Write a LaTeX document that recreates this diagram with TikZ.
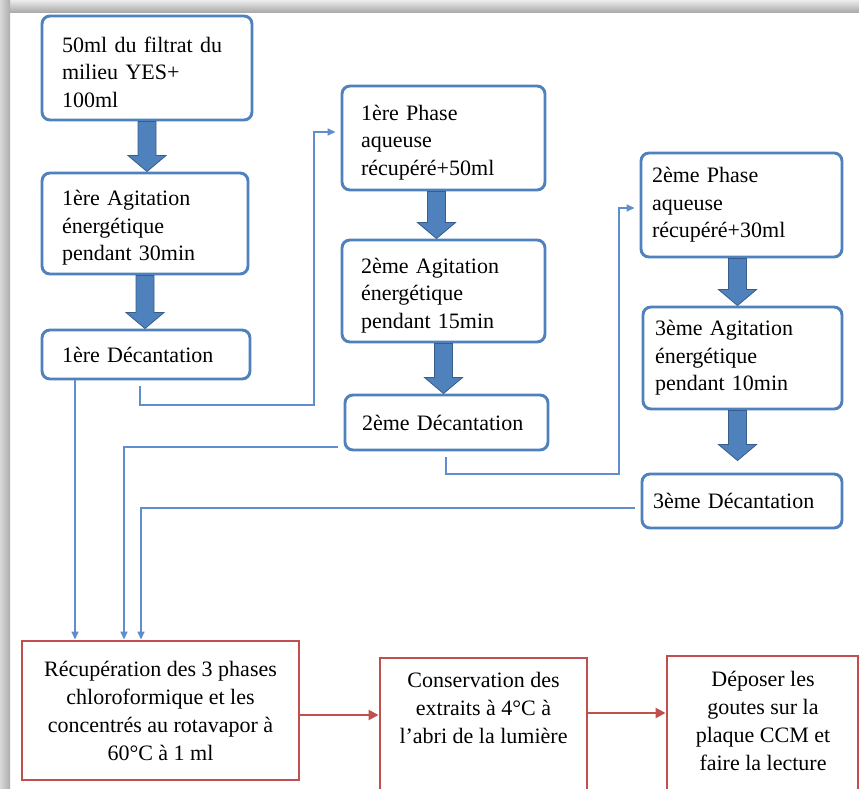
\documentclass[tikz,border=0pt]{standalone}
\usepackage{fontspec}
\setmainfont{Liberation Serif}
\usetikzlibrary{arrows.meta,calc}
\definecolor{bxblue}{RGB}{79,129,189}
\definecolor{bxdark}{RGB}{56,93,138}
\definecolor{lnblue}{RGB}{96,142,204}
\definecolor{bxred}{RGB}{192,80,77}
\begin{document}
\begin{tikzpicture}[x=1pt,y=-1pt,
  bluebox/.style={draw=bxblue, line width=2.9pt, rounded corners=8pt, fill=white, inner sep=0pt, align=left, font=\fontsize{22}{27.5}\selectfont},
  lower/.style={execute at begin node={\rule{0pt}{24pt}}},
  redbox/.style={draw=bxred, line width=2.9pt, inner sep=0pt, fill=white, align=center, font=\fontsize{22}{28}\selectfont},
  redtext/.style={inner sep=0pt, align=center, font=\fontsize{22}{28}\selectfont},
  conn/.style={draw=lnblue, line width=1.5pt, -{Triangle[length=8pt,width=7pt]}},
  redconn/.style={draw=bxred, line width=2.6pt, -{Triangle[length=10pt,width=10pt]}},
  blockarr/.style={draw=bxdark, fill=bxblue, line width=0.8pt, line join=miter,
    to path={let \p1=(\tikztostart), \p2=(\tikztotarget) in
      (\x1-9pt,\y1) -- (\x1-9pt,\y2+16pt) -- (\x1-19pt,\y2+16pt) -- (\x1,\y2)
      -- (\x1+19pt,\y2+16pt) -- (\x1+9pt,\y2+16pt) -- (\x1+9pt,\y1) -- cycle}}
]
\useasboundingbox (0,0) rectangle (859,789);
\clip (0,0) rectangle (859,789);
\fill[white] (0,0) rectangle (859,789);
\shade[top color=gray!15, bottom color=gray!70] (0,0) rectangle (859,13);
\shade[left color=gray!30, right color=gray!65] (0,0) rectangle (10,789);

% blue boxes
\node[bluebox, lower, minimum width=210pt, minimum height=104pt, text width=170pt] (A) at (147,68) {50ml du filtrat du\\milieu YES+\\100ml};
\node[bluebox, lower, minimum width=206pt, minimum height=101pt, text width=166pt] (B) at (145,223.5) {1ère Agitation\\énergétique\\pendant 30min};
\node[bluebox, minimum width=208pt, minimum height=49pt, text width=168pt] (C) at (146,354.5) {1ère Décantation};
\node[bluebox, lower, minimum width=203pt, minimum height=104pt, text width=165pt] (D) at (443.5,138) {1ère Phase\\aqueuse\\récupéré+50ml};
\node[bluebox, lower, minimum width=203pt, minimum height=102pt, text width=165pt] (E) at (443.5,291) {2ème Agitation\\énergétique\\pendant 15min};
\node[bluebox, minimum width=203pt, minimum height=55pt, text width=169pt] (F) at (446.5,422.5) {2ème Décantation};
\node[bluebox, minimum width=201pt, minimum height=104pt, text width=179pt] (G) at (741.5,205) {2ème Phase\\aqueuse\\récupéré+30ml};
\node[bluebox, minimum width=199pt, minimum height=102pt, text width=175pt] (H) at (742.5,358) {3ème Agitation\\énergétique\\pendant 10min};
\node[bluebox, minimum width=200pt, minimum height=54pt, text width=178pt] (I) at (742,501) {3ème Décantation};

% red boxes
\node[redbox, minimum width=277pt, minimum height=139pt] (J) at (160.5,710.5) {Récupération des 3 phases\\chloroformique et les\\concentrés au rotavapor à\\60°C à 1 ml};
\node[redbox, minimum width=207pt, minimum height=152pt] (K) at (483.5,734) {};
\node[redtext, anchor=north] (Kt) at (483.5,672) {Conservation des\\extraits à 4°C à\\l’abri de la lumière};
\node[redbox, minimum width=191pt, minimum height=154pt] (L) at (762.5,733) {};
\node[redtext, anchor=north] (Lt) at (763,671) {Déposer les\\goutes sur la\\plaque CCM et\\faire la lecture};

% block arrows
\path[blockarr] (A.south) to (B.north);
\path[blockarr] (B.south) to (C.north);
\path[blockarr] ([xshift=-7pt]D.south) to ([xshift=-7pt]E.north);
\path[blockarr] (E.south) to (F.north);
\path[blockarr] ([xshift=-4pt]G.south) to ([xshift=-4pt]H.north);
\path[blockarr] ([xshift=-5pt]H.south) to ([xshift=-5pt,yshift=12pt]I.north);

% thin connectors
\draw[conn] (C.south -| 75,0) -- (J.north -| 75,0);
\draw[conn] ($(C.south -| 140,0)+(0,6)$) |- (314,405) |- ($(D.west |- 0,132)+(-5,0)$);
\draw[conn] ($(F.west |- 0,447)+(-6,0)$) -| (J.north -| 124,0);
\draw[conn] ($(F.south -| 446,0)+(0,6)$) |- (619,474) |- ($(G.west |- 0,208)+(-5,0)$);
\draw[conn] ($(I.west |- 0,508)+(-6,0)$) -| (J.north -| 141,0);

% red connectors
\coordinate (jk) at ([yshift=-4.5pt]J.east);
\draw[redconn] (jk) -- (jk -| K.west);
\draw[redconn] (K.east |- 0,713) -- (L.west |- 0,713);
\end{tikzpicture}
\end{document}
